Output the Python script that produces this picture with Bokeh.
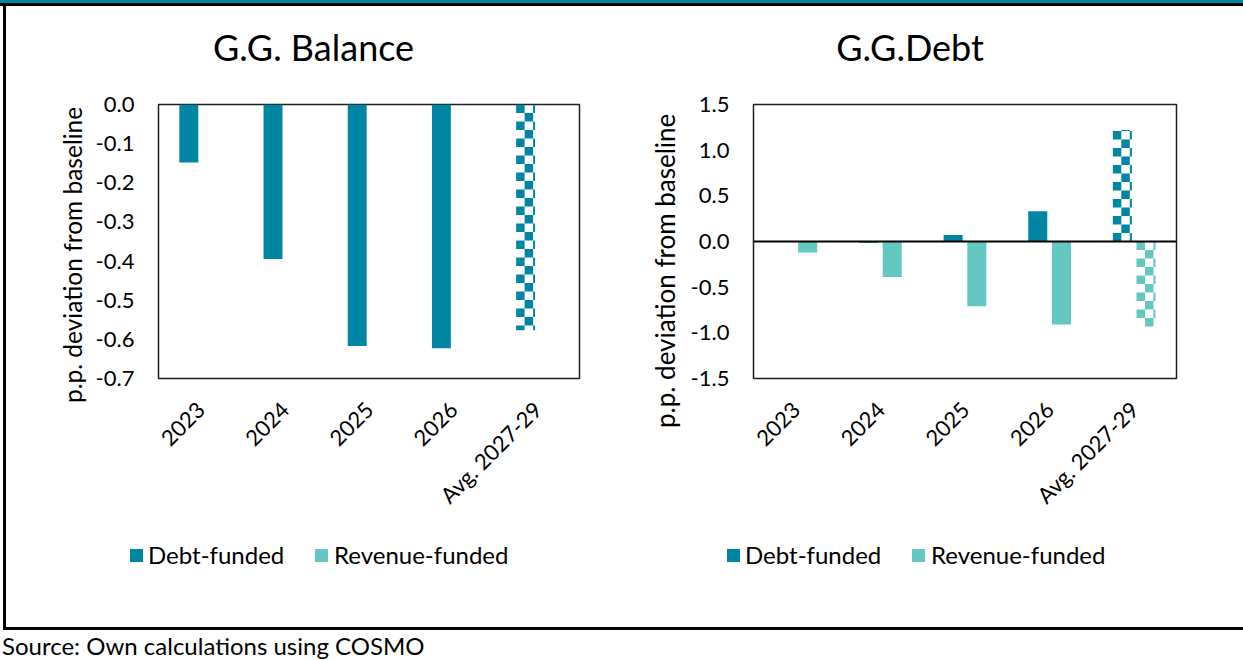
import numpy as np
from bokeh.plotting import figure
from bokeh.models import (ColumnDataSource, Div, Span, FixedTicker, Range1d,
                          FactorRange, NumeralTickFormatter)
from bokeh.layouts import row, column
from bokeh.transform import dodge
from bokeh.embed import file_html
from bokeh.resources import INLINE

# ---- data -------------------------------------------------------------
categories = ["2023", "2024", "2025", "2026", "Avg. 2027-29"]

balance_debt_funded = [-0.148, -0.395, -0.617, -0.623, -0.577]
balance_revenue_funded = [0.0, 0.0, 0.0, 0.0, 0.0]

debt_debt_funded = [0.0, -0.015, 0.07, 0.33, 1.22]
debt_revenue_funded = [-0.12, -0.39, -0.71, -0.91, -0.93]

balance_ticks = [0.0, -0.1, -0.2, -0.3, -0.4, -0.5, -0.6, -0.7]
debt_ticks = [-1.5, -1.0, -0.5, 0.0, 0.5, 1.0, 1.5]

series_names = ["Debt-funded", "Revenue-funded"]
y_title = "p.p. deviation from baseline"

# ---- styling ----------------------------------------------------------
TEAL = "#0086a3"
MINT = "#63c7c2"
FONT = "Lato"
BAR_W = 0.225
OFFSET = 0.14
CELL_PX = 8.5
FRAME_H = 274
FIG_H = 448


def checker_quads(idx, offset, value, px_per_x, px_per_y):
    """Checkerboard cells covering a bar from 0 to value (average column)."""
    cx = CELL_PX / px_per_x
    cy = CELL_PX / px_per_y
    left0 = idx + 0.5 + offset - BAR_W / 2
    right0 = left0 + BAR_W
    n_cols = int(np.ceil(BAR_W / cx - 1e-9))
    n_rows = int(np.ceil(abs(value) / cy - 1e-9))
    sign = 1.0 if value > 0 else -1.0
    L, R, T, B = [], [], [], []
    for i in range(n_rows):
        a = sign * i * cy
        b = sign * min((i + 1) * cy, abs(value))
        for j in range(n_cols):
            if (i + j) % 2:
                continue
            x0 = left0 + j * cx
            x1 = min(x0 + cx, right0)
            L.append(x0)
            R.append(x1)
            T.append(max(a, b))
            B.append(min(a, b))
    return dict(left=L, right=R, top=T, bottom=B)


def make_panel(width, mb_left, mb_right, frame_w, y_lo, y_hi, ticks,
               debt, rev, zero_line):
    p = figure(x_range=FactorRange(factors=categories, range_padding=0, factor_padding=0),
               y_range=Range1d(y_lo, y_hi),
               width=width, height=FIG_H,
               min_border_left=mb_left, min_border_right=mb_right,
               min_border_top=15, min_border_bottom=FIG_H - 15 - FRAME_H,
               output_backend="svg", toolbar_location=None)

    main = categories[:4]
    src = ColumnDataSource(dict(cat=main, debt=debt[:4], rev=rev[:4]))
    p.vbar(x=dodge("cat", -OFFSET, range=p.x_range), top="debt", bottom=0,
           width=BAR_W, source=src, fill_color=TEAL, line_color=None)
    p.vbar(x=dodge("cat", OFFSET, range=p.x_range), top="rev", bottom=0,
           width=BAR_W, source=src, fill_color=MINT, line_color=None)

    # the multi-year average is shown with a checkerboard fill
    px_x = frame_w / len(categories)
    px_y = FRAME_H / (y_hi - y_lo)
    last = len(categories) - 1
    for off, val, col in ((-OFFSET, debt[last], TEAL), (OFFSET, rev[last], MINT)):
        if val != 0:
            p.quad(source=ColumnDataSource(checker_quads(last, off, val, px_x, px_y)),
                   left="left", right="right", top="top", bottom="bottom",
                   fill_color=col, line_color=None)

    if zero_line:
        p.add_layout(Span(location=0, dimension="width", line_color="black", line_width=2))

    p.grid.visible = False
    p.outline_line_color = "#1f1f1f"
    p.outline_line_width = 1.5
    p.background_fill_color = "white"
    p.border_fill_color = "white"

    xa = p.xaxis[0]
    xa.major_label_orientation = np.pi / 4
    xa.axis_line_color = None
    xa.major_tick_line_color = None
    xa.minor_tick_line_color = None
    xa.major_label_standoff = 21
    xa.major_label_text_font = FONT
    xa.major_label_text_font_size = "22px"
    xa.major_label_text_color = "black"

    ya = p.yaxis[0]
    ya.ticker = FixedTicker(ticks=ticks)
    ya.formatter = NumeralTickFormatter(format="0.0")
    ya.axis_line_color = None
    ya.major_tick_line_color = None
    ya.minor_tick_line_color = None
    ya.major_tick_out = 0
    ya.major_label_standoff = 24
    ya.major_label_text_font = FONT
    ya.major_label_text_font_size = "22px"
    ya.major_label_text_color = "black"
    return p


# figure widths: block width minus the y-title strip
p_balance = make_panel(615 - 86, 65, 42, 422, -0.7, 0.0, balance_ticks,
                       balance_debt_funded, balance_revenue_funded, False)
p_debt = make_panel(622 - 66, 65, 67, 424, -1.5, 1.5, debt_ticks,
                    debt_debt_funded, debt_revenue_funded, True)


def y_title_div(width, box_left, box_h, size):
    """Vertical axis title, reading bottom to top."""
    html = (f'<div style="position:relative;width:{width}px;height:{FIG_H}px">'
            f'<div style="position:absolute;left:{box_left}px;top:0;width:26px;height:{box_h}px;'
            f'line-height:26px;writing-mode:vertical-rl;transform:rotate(180deg);'
            f'text-align:center;font-family:Lato;font-size:{size}px;color:#000;'
            f'white-space:nowrap">{y_title}</div></div>')
    return Div(text=html, width=width, height=FIG_H, margin=0)


def title_div(text, width, pad_right=0):
    html = (f'<div style="box-sizing:border-box;width:{width}px;padding-right:{pad_right}px;'
            f'height:83px;line-height:83px;text-align:center;font-family:Lato;font-size:36px;'
            f'color:#000;white-space:nowrap">{text}</div>')
    return Div(text=html, width=width, height=83, margin=0)


def legend_div(width, x0):
    """Series key below a panel: two coloured squares with their names."""
    parts = []
    for k, (name, col) in enumerate(zip(series_names, (TEAL, MINT))):
        sq = x0 + k * 185
        parts.append(f'<div style="position:absolute;left:{sq}px;top:12px;width:13px;'
                     f'height:13px;background:{col}"></div>')
        parts.append(f'<div style="position:absolute;left:{sq + 18 + k}px;top:6px;height:24px;'
                     f'line-height:24px;font-family:Lato;font-size:24px;color:#000;'
                     f'white-space:nowrap">{name}</div>')
    html = (f'<div style="position:relative;width:{width}px;height:90px">'
            + "".join(parts) + '</div>')
    return Div(text=html, width=width, height=90, margin=0)


band = Div(text="", width=1243, height=6, margin=0,
           styles={"background-color": TEAL, "border-bottom": "3px solid #000",
                   "box-sizing": "border-box"})
edge = Div(text=('<div style="position:relative;width:6px;height:621px">'
                 '<div style="position:absolute;left:3px;top:0;width:3px;height:621px;'
                 'background:#000"></div></div>'),
           width=6, height=621, margin=0)

left_block = column(title_div("G.G. Balance", 615),
                    row(y_title_div(86, 54, 332, 24.5), p_balance, spacing=0, margin=0),
                    legend_div(615, 124), spacing=0, margin=0)
right_block = column(title_div("G.G.Debt", 622, 44),
                     row(y_title_div(66, 31, 364, 26), p_debt, spacing=0, margin=0),
                     legend_div(622, 106), spacing=0, margin=0)
body = row(edge, left_block, right_block, spacing=0, margin=0)

footer = Div(text=('<div style="position:relative;width:1243px;height:33px">'
                   '<div style="position:absolute;left:3px;top:0;width:1240px;height:3px;'
                   'background:#000"></div>'
                   '<div style="position:absolute;left:2px;top:4px;height:29px;line-height:29px;'
                   'font-family:Lato;font-size:24px;color:#000;white-space:nowrap">'
                   'Source: Own calculations using COSMO</div></div>'),
             width=1243, height=33, margin=0)

page = column(band, body, footer, spacing=0, margin=0)

open("out.html", "w").write(file_html(page, INLINE, title="G.G. Balance and Debt"))
